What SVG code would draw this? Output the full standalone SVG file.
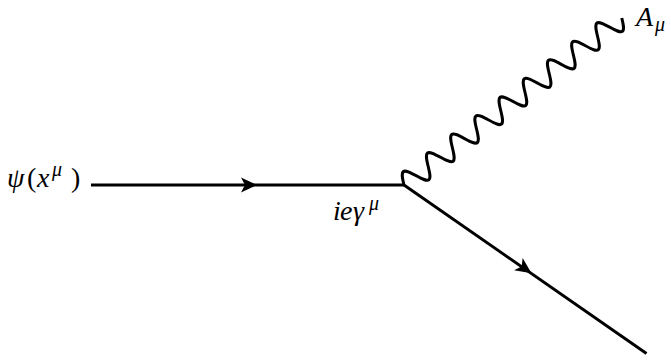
<svg xmlns="http://www.w3.org/2000/svg" xmlns:xlink="http://www.w3.org/1999/xlink" width="671" height="362" viewBox="0 0 671 362">
<defs>
<style>
.line{fill:none;stroke:#000;stroke-width:2.9;stroke-linejoin:round}
.t{font-family:"Liberation Serif","Times New Roman",serif;font-style:italic;font-size:28px;fill:#000}
.up{font-style:normal}
.sc{font-size:20px}
</style>
<path id="arrowhead" d="M0,0 L-16,-7.5 L-12,0 L-16,7.5 Z" fill="#000"/>
</defs>
<rect width="671" height="362" fill="#fff"/>
<g id="connectors">
<path id="fermion-in" class="line" d="M91,185 L404,185"/>
<use xlink:href="#arrowhead" href="#arrowhead" transform="translate(257,185)"/>
<path id="fermion-out" class="line" d="M404,185 L646.5,353.5"/>
<use xlink:href="#arrowhead" href="#arrowhead" transform="translate(531.5,273.3) rotate(34.8)"/>
<path id="photon" class="line" transform="translate(404,185) rotate(-37.5) scale(1,1.1)" d="M0,0 c2.487,-5.123 4.865,-10 7.625,-10 s5.138,4.877 7.625,10 s4.865,10 7.625,10 s5.138,-4.877 7.625,-10
s4.865,-10 7.625,-10 s5.138,4.877 7.625,10 s4.865,10 7.625,10 s5.138,-4.877 7.625,-10
s4.865,-10 7.625,-10 s5.138,4.877 7.625,10 s4.865,10 7.625,10 s5.138,-4.877 7.625,-10
s4.865,-10 7.625,-10 s5.138,4.877 7.625,10 s4.865,10 7.625,10 s5.138,-4.877 7.625,-10
s4.865,-10 7.625,-10 s5.138,4.877 7.625,10 s4.865,10 7.625,10 s5.138,-4.877 7.625,-10
s4.865,-10 7.625,-10 s5.138,4.877 7.625,10 s4.865,10 7.625,10 s5.138,-4.877 7.625,-10
s4.865,-10 7.625,-10 s5.138,4.877 7.625,10 s4.865,10 7.625,10 s5.138,-4.877 7.625,-10
s4.865,-10 7.625,-10 s5.138,4.877 7.625,10 s4.865,10 7.625,10 s5.138,-4.877 7.625,-10
s4.865,-10 7.625,-10 s5.138,4.877 7.625,10 s4.865,10 7.625,10 s5.138,-4.877 7.625,-10"/>
</g>
<g id="node-psi">
<text class="t" x="7" y="187">ψ</text>
<text class="t up" x="27" y="187">(</text>
<text class="t" x="37" y="187">x</text>
<text class="t sc" x="52" y="176">μ</text>
<text class="t up" x="71" y="187">)</text>
</g>
<g id="node-vertex">
<text class="t" x="333" y="220">i</text>
<text class="t" x="340" y="220">e</text>
<text class="t" x="353" y="220">γ</text>
<text class="t sc" x="369" y="210">μ</text>
</g>
<g id="node-photon">
<text class="t" x="636" y="26">A</text>
<text class="t sc" x="655" y="31">μ</text>
</g>
</svg>
